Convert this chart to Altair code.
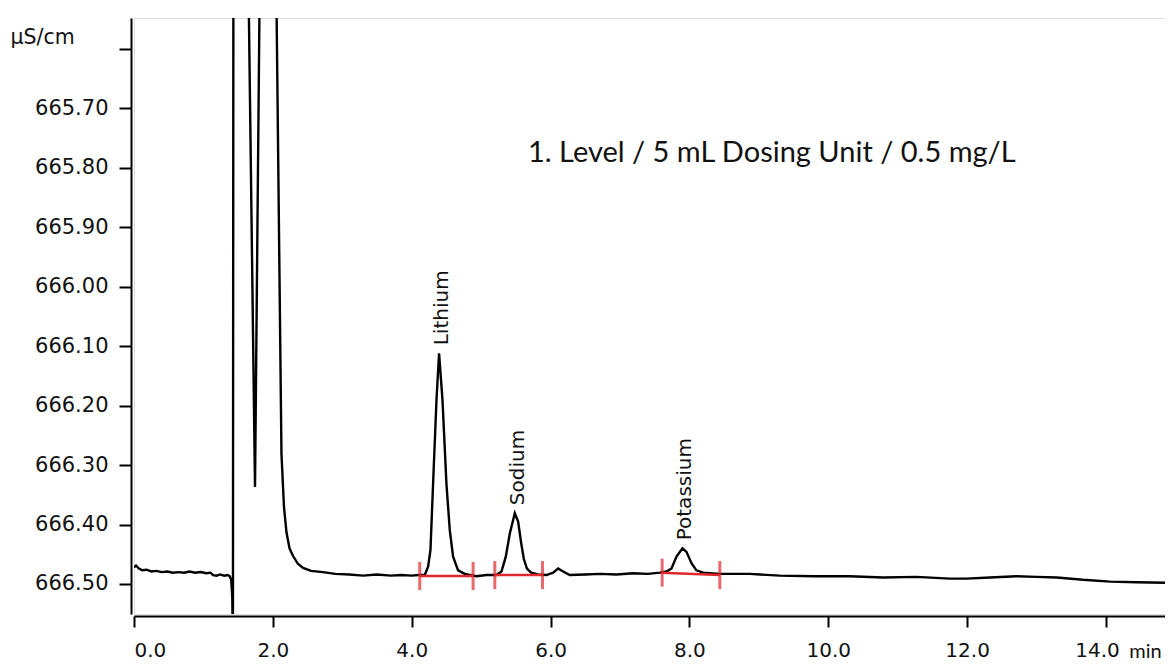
import altair as alt
import pandas as pd

# ---- chromatogram trace (time in min, conductivity in µS/cm) ----
time_min = [0.00, 0.03, 0.07, 0.12, 0.18, 0.25, 0.32, 0.40, 0.48, 0.56, 0.64, 0.72, 0.80, 0.88,
            0.96, 1.04, 1.10, 1.14, 1.19, 1.24, 1.30, 1.35, 1.38, 1.40, 1.415, 1.425, 1.432,
            1.65, 1.743, 1.81, 2.05, 2.124, 2.16, 2.196, 2.24, 2.291, 2.36, 2.435, 2.55, 2.72,
            2.90, 3.10, 3.30, 3.50, 3.70, 3.85, 4.00, 4.10, 4.188, 4.236, 4.27, 4.308, 4.357,
            4.394, 4.443, 4.50, 4.548, 4.596, 4.668, 4.764, 4.93, 5.08, 5.221, 5.293, 5.355,
            5.413, 5.485, 5.533, 5.575, 5.615, 5.66, 5.72, 5.82, 5.941, 6.037, 6.109, 6.181, 6.277,
            6.50, 6.71, 6.95, 7.19, 7.40, 7.574, 7.67, 7.742, 7.814, 7.90, 7.958, 8.03, 8.10,
            8.198, 8.438, 8.87, 9.30, 9.80, 10.31, 10.79, 11.27, 11.75, 11.99, 12.33, 12.71,
            13.00, 13.29, 13.67, 14.06, 14.44, 14.92]
signal = [666.472, 666.469, 666.474, 666.477, 666.476, 666.479, 666.478, 666.480, 666.479,
          666.481, 666.480, 666.481, 666.479, 666.481, 666.480, 666.482, 666.481, 666.485,
          666.486, 666.484, 666.486, 666.485, 666.487, 666.493, 666.52, 666.60, 665.40,
          665.50, 666.337, 665.50, 665.50, 666.281, 666.37, 666.413, 666.440, 666.453,
          666.466, 666.473, 666.478, 666.480, 666.483, 666.484, 666.486, 666.484, 666.486,
          666.485, 666.486, 666.485, 666.485, 666.471, 666.443, 666.331, 666.190, 666.112,
          666.190, 666.331, 666.409, 666.454, 666.477, 666.483, 666.487, 666.485, 666.485,
          666.479, 666.454, 666.415, 666.381, 666.395, 666.430, 666.458, 666.474, 666.481,
          666.484, 666.485, 666.481, 666.474, 666.479, 666.485, 666.484, 666.483, 666.484,
          666.482, 666.483, 666.481, 666.479, 666.474, 666.454, 666.440, 666.446, 666.465,
          666.477, 666.481, 666.483, 666.483, 666.486, 666.487, 666.487, 666.489, 666.488,
          666.491, 666.491, 666.489, 666.487, 666.488, 666.489, 666.493, 666.496, 666.497,
          666.498]

# ---- peaks ----
peak_names = ["Lithium", "Sodium", "Potassium"]
peak_time = [4.394, 5.485, 7.90]
peak_value = [666.112, 666.381, 666.440]

# ---- integration limits (red markers) ----
int_start = [4.116, 5.197, 7.607]
int_end = [4.884, 5.884, 8.438]
int_start_val = [666.4866, 666.485, 666.481]
int_end_val = [666.4866, 666.485, 666.485]

# ---- annotation ----
note_text = ["1. Level / 5 mL Dosing Unit / 0.5 mg/L"]
note_time = [5.675]
note_value = [665.775]

y_ticks = [665.60, 665.70, 665.80, 665.90, 666.00, 666.10, 666.20, 666.30, 666.40, 666.50]
x_ticks = [0, 2, 4, 6, 8, 10, 12, 14]

trace = pd.DataFrame({"t": time_min, "v": signal})
peaks = pd.DataFrame({"name": peak_names, "t": peak_time, "v": peak_value})
ranges = pd.DataFrame({"t": int_start, "t2": int_end, "v": int_start_val, "v2": int_end_val})
ticks = pd.DataFrame({"t": int_start + int_end, "v": int_start_val + int_end_val})
note = pd.DataFrame({"text": note_text, "t": note_time, "v": note_value})

RED = "#e0282e"
LABEL_FONT = "DejaVu Sans"
INK = "#111111"

xscale = alt.Scale(domain=[0, 14.85], nice=False, zero=False)
yscale = alt.Scale(domain=[665.548, 666.5505], reverse=True, nice=False, zero=False)

x_axis = alt.Axis(
    values=x_ticks, format=".1f", grid=False, offset=2,
    domainColor="black", domainWidth=2, tickColor="black", tickWidth=2, tickSize=11,
    labelFont=LABEL_FONT, labelFontSize=20, labelColor=INK, labelPadding=13,
    labelFlush=True,
    labelOffset={"condition": {"test": "datum.value == 14", "value": -9}, "value": 0},
    title="min", titleFont="Lato", titleFontSize=20, titleFontWeight="normal",
    titleColor=INK, titleX=1011, titleY=35, titleAlign="center", titleBaseline="middle",
)
y_axis = alt.Axis(
    values=y_ticks, grid=False, offset=3,
    labelExpr="datum.value < 665.65 ? '' : format(datum.value, '.2f')",
    domainColor="black", domainWidth=2, tickColor="black", tickWidth=2, tickSize=12,
    labelFont=LABEL_FONT, labelFontSize=21, labelColor=INK, labelPadding=11,
    title="µS/cm", titleFont=LABEL_FONT, titleFontSize=20.5, titleFontWeight="normal",
    titleColor=INK, titleAngle=0, titleAlign="left", titleBaseline="middle",
    titleX=-121, titleY=19,
)

line = alt.Chart(trace).mark_line(color="black", strokeWidth=2.4, clip=True).encode(
    x=alt.X("t:Q", scale=xscale, axis=x_axis),
    y=alt.Y("v:Q", scale=yscale, axis=y_axis),
)

range_rules = alt.Chart(ranges).mark_rule(color=RED, strokeWidth=2.5).encode(
    x="t:Q", x2="t2:Q", y="v:Q", y2="v2:Q"
)

range_ticks = alt.Chart(ticks).mark_tick(color=RED, orient="vertical", size=28, thickness=3).encode(
    x="t:Q", y="v:Q"
)

peak_labels = alt.Chart(peaks).mark_text(
    angle=270, align="left", baseline="middle", dx=8, dy=3,
    font=LABEL_FONT, fontSize=20, color=INK
).encode(x="t:Q", y="v:Q", text="name:N")

note_label = alt.Chart(note).mark_text(
    align="left", baseline="middle", font="Lato", fontSize=29, color=INK
).encode(x="t:Q", y="v:Q", text="text:N")

chart = alt.layer(line, range_rules, range_ticks, peak_labels, note_label).properties(
    width=1031, height=596,
    autosize=alt.AutoSizeParams(type="none"),
    padding={"left": 126, "top": 10, "right": 0, "bottom": 48},
).configure_view(stroke=None).configure(background="white")

chart.save("out.html", embed_options={"renderer": "svg", "actions": False})
